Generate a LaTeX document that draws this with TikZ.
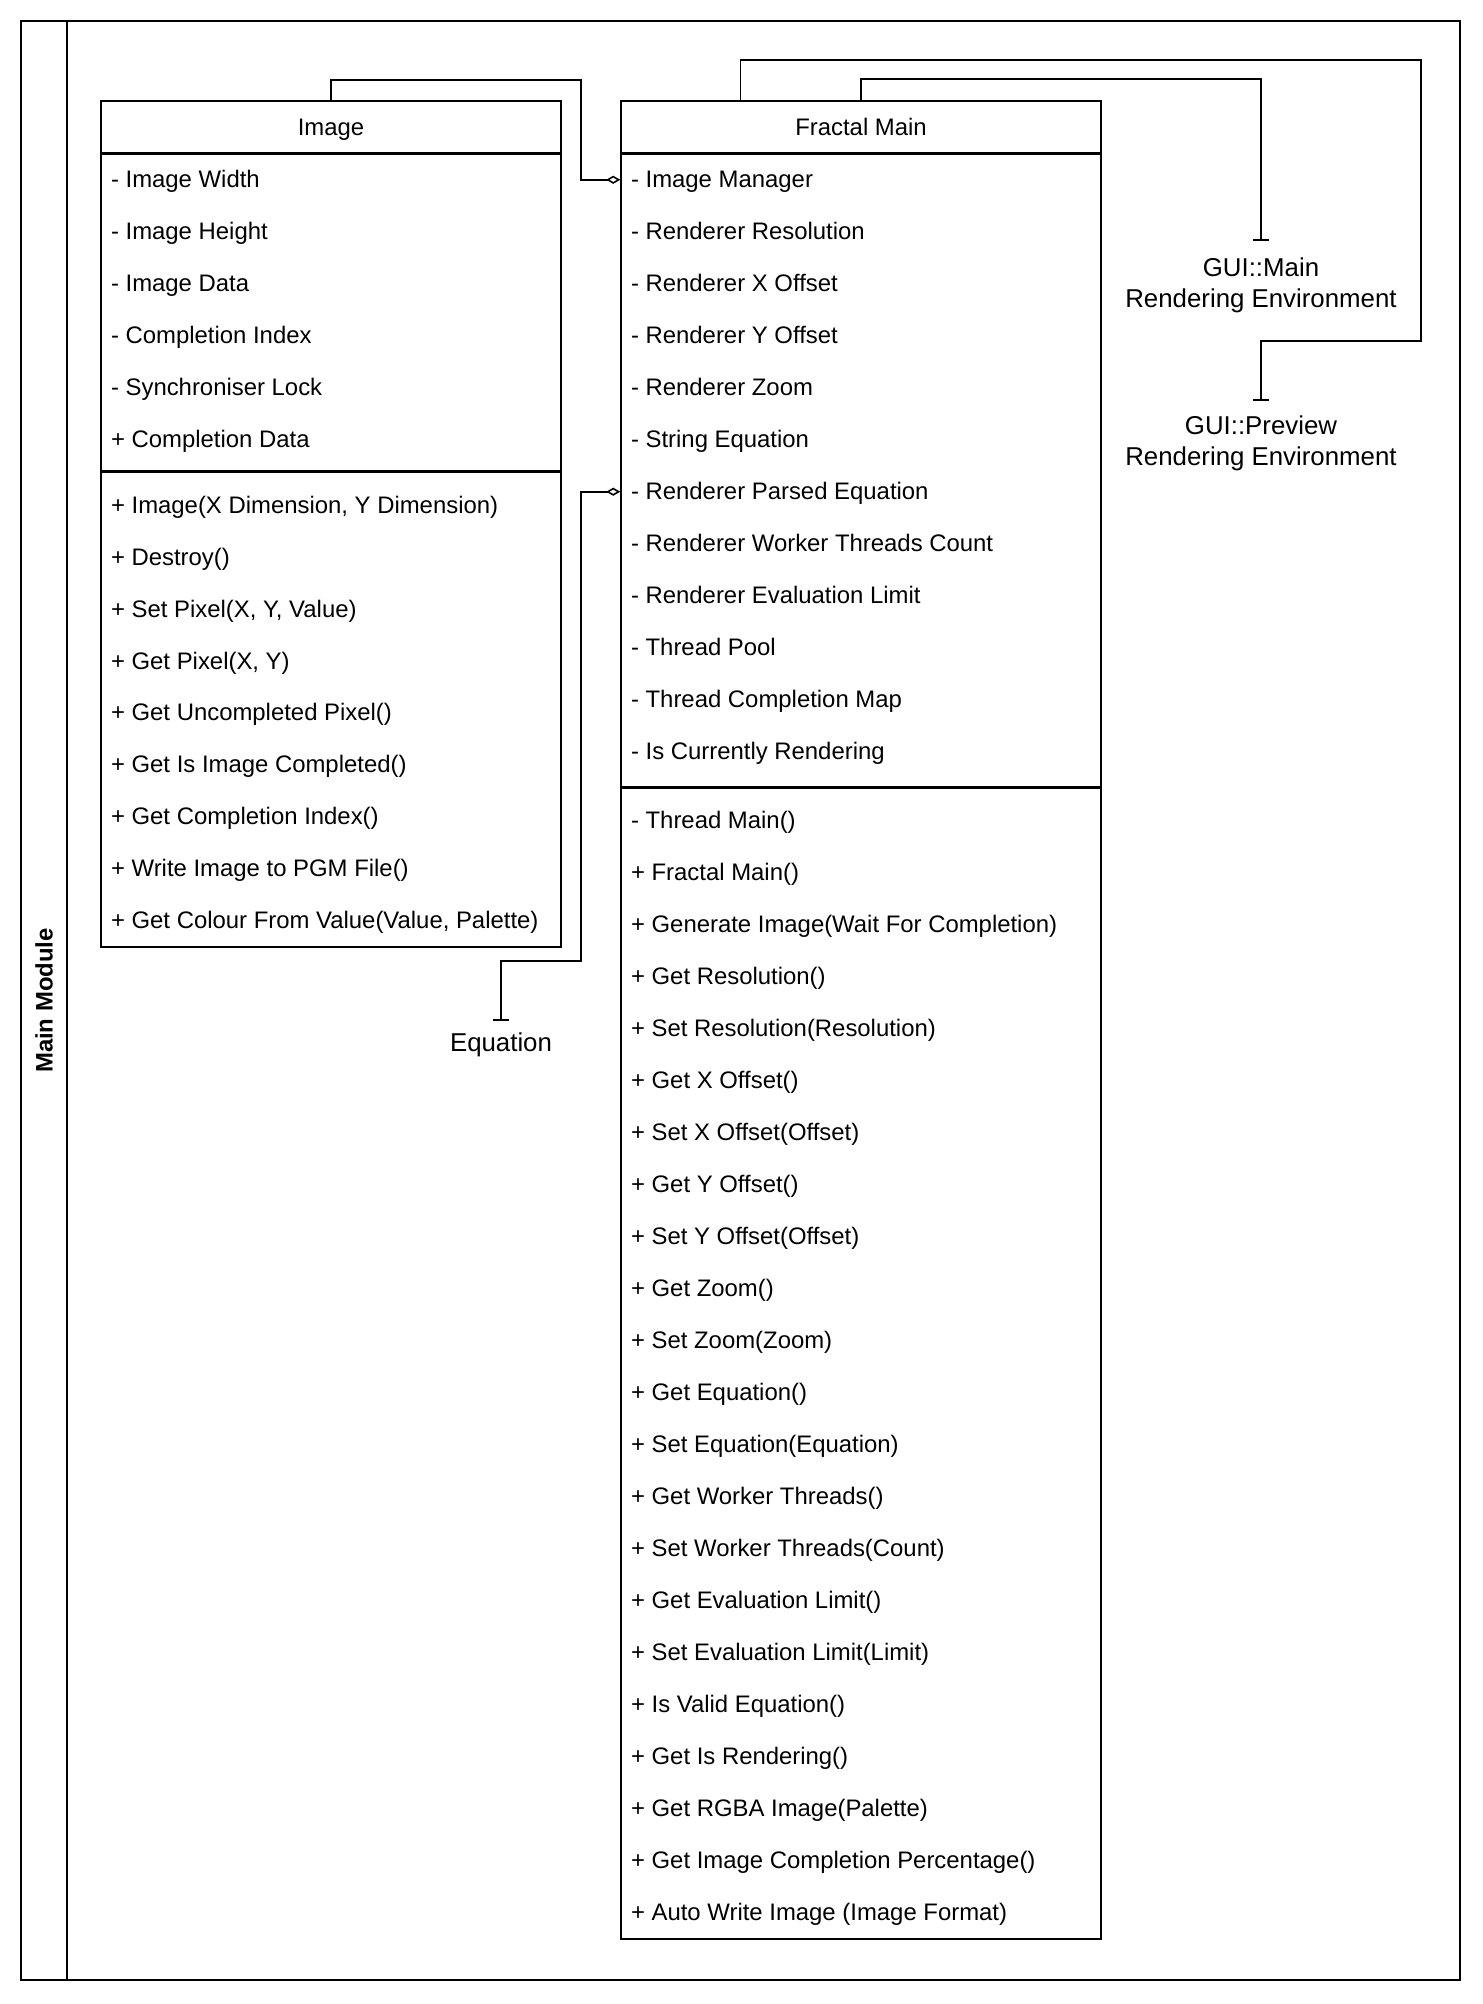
\documentclass[tikz,border=0pt]{standalone}
\usepackage{fontspec}
\setmainfont{Liberation Sans}
\usetikzlibrary{positioning,calc,arrows.meta}

\begin{document}
\begin{tikzpicture}[x=0.02cm,y=-0.02cm,line width=0.9pt,
    txt/.style={font=\fontsize{13.6}{16}\selectfont},
    head/.style={txt,draw,minimum height=1.04cm,inner sep=0pt,text height=1.0em,text depth=0.02em},
    block/.style={draw,anchor=north,inner sep=0pt},
    row/.style={txt,anchor=west,inner sep=0pt,text height=0.9em,text depth=0.02em},
    ext/.style={font=\fontsize{14.7}{17.6}\selectfont,align=center,anchor=north},
    aggr/.style={{Diamond[open,length=8pt,width=4.6pt]}-},
    aggruse/.style={{Diamond[open,length=8pt,width=4.6pt]}-{Bar[width=9pt]}},
    uses/.style={-{Bar[width=9pt]}}]
\useasboundingbox (0,0) rectangle (1482,2004);

% module frame
\node[draw,minimum width=28.78cm,minimum height=39.18cm,inner sep=0pt] (mod) at (740.5,1000.5) {};
\node[draw,anchor=north west,minimum width=0.92cm,minimum height=39.18cm,inner sep=0pt] (modbar) at (mod.north west) {};
\node[rotate=90,font=\fontsize{13.6}{16}\selectfont\bfseries] (modname) at (modbar) {Main Module};

% Image class
\node[head,minimum width=9.2cm] (img) at (331,127) {Image};
\node[block,minimum width=9.2cm,minimum height=6.32cm] (imgA) at (img.south) {};
\node[block,minimum width=9.2cm,minimum height=9.5cm] (imgM) at (imgA.south) {};
\foreach \lbl [count=\i] in {- Image Width,- Image Height,- Image Data,- Completion Index,
    - Synchroniser Lock,+ Completion Data}
  \node[row] (imgA\i) at ([xshift=0.2cm,yshift={-(\i-0.5)*1.04cm}]imgA.north west) {\lbl};
\foreach \lbl [count=\i] in {{+ Image(X Dimension, Y Dimension)},+ Destroy(),{+ Set Pixel(X, Y, Value)},
    {+ Get Pixel(X, Y)},+ Get Uncompleted Pixel(),+ Get Is Image Completed(),+ Get Completion Index(),
    + Write Image to PGM File(),{+ Get Colour From Value(Value, Palette)}}
  \node[row] (imgM\i) at ([xshift=0.2cm,yshift={-0.68cm-(\i-1)*1.04cm}]imgM.north west) {\lbl};

% Fractal Main class
\node[head,minimum width=9.6cm] (fm) at (861,127) {Fractal Main};
\node[block,minimum width=9.6cm,minimum height=12.64cm] (fmA) at (fm.south) {};
\node[block,minimum width=9.6cm,minimum height=23.02cm] (fmM) at (fmA.south) {};
\foreach \lbl [count=\i] in {- Image Manager,- Renderer Resolution,- Renderer X Offset,- Renderer Y Offset,
    - Renderer Zoom,- String Equation,- Renderer Parsed Equation,- Renderer Worker Threads Count,
    - Renderer Evaluation Limit,- Thread Pool,- Thread Completion Map,- Is Currently Rendering}
  \node[row] (fmA\i) at ([xshift=0.2cm,yshift={-(\i-0.5)*1.04cm}]fmA.north west) {\lbl};
\foreach \lbl [count=\i] in {- Thread Main(),+ Fractal Main(),+ Generate Image(Wait For Completion),
    + Get Resolution(),+ Set Resolution(Resolution),+ Get X Offset(),+ Set X Offset(Offset),
    + Get Y Offset(),+ Set Y Offset(Offset),+ Get Zoom(),+ Set Zoom(Zoom),+ Get Equation(),
    + Set Equation(Equation),+ Get Worker Threads(),+ Set Worker Threads(Count),
    + Get Evaluation Limit(),+ Set Evaluation Limit(Limit),+ Is Valid Equation(),
    + Get Is Rendering(),+ Get RGBA Image(Palette),+ Get Image Completion Percentage(),
    + Auto Write Image (Image Format)}
  \node[row] (fmM\i) at ([xshift=0.2cm,yshift={-0.68cm-(\i-1)*1.04cm}]fmM.north west) {\lbl};

% outside references
\node[ext,inner ysep=6pt] (eq) at (501,1021) {Equation};
\node[ext,inner ysep=9pt] (gm) at (1261,241) {GUI::Main\\Rendering Environment};
\node[ext,inner ysep=8pt] (gp) at (1261,401) {GUI::Preview\\Rendering Environment};

% connectors
\coordinate (imgbend) at (581,80);
\coordinate (eqbend) at (581,961);
\coordinate (gpbend) at (1421,341);
\draw[aggr] (fmA1 -| fm.west) -| (imgbend) -| (img.north);
\draw[aggruse] (fmA7 -| fm.west) -| (eqbend) -| (eq.north);
\draw[uses] (fm.north) -- ++(0,-21) -| (gm.north);
\draw[uses] ($(fm.north west)!0.25!(fm.north east)$) -- ++(0,-40) -| (gpbend) -| (gp.north);
\end{tikzpicture}
\end{document}
